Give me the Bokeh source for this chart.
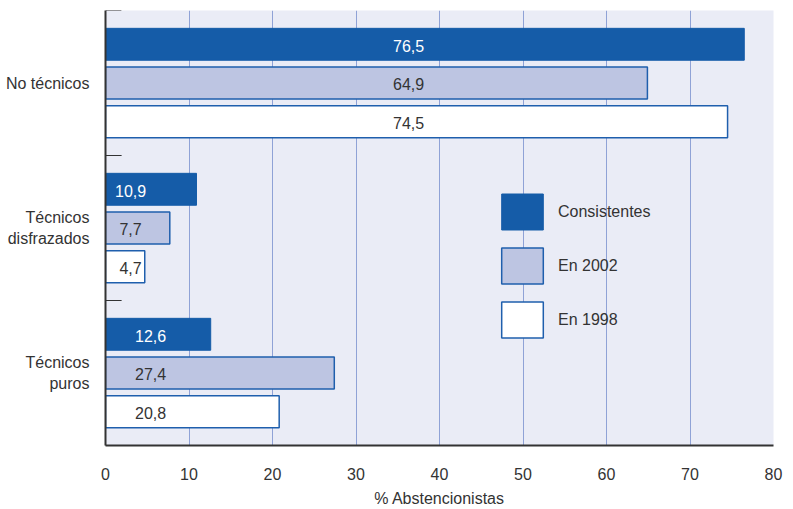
from bokeh.plotting import figure
from bokeh.models import FactorRange, Range1d, ColumnDataSource, Legend, LegendItem, FixedTicker
from bokeh.transform import dodge
from bokeh.core.properties import value
from bokeh.embed import file_html
from bokeh.resources import INLINE

# ---- data ----
categories = ["No técnicos", "Técnicos\ndisfrazados", "Técnicos\npuros"]
series_names = ["Consistentes", "En 2002", "En 1998"]
consistentes = [76.5, 10.9, 12.6]
en_2002 = [64.9, 7.7, 27.4]
en_1998 = [74.5, 4.7, 20.8]
x_ticks = [0, 10, 20, 30, 40, 50, 60, 70, 80]

# ---- style / layout ----
FONT = "Liberation Sans"
FS = "16px"
DARK = "#155CA8"
LIGHT = "#BDC5E2"
EDGE = "#1F5FAD"
BG = "#EAECF6"
GRID = "#8FA2D6"
TXT = "#333333"
LABEL_X = [36.3, 3.0, 5.4]   # where value labels sit in each group
OFFSETS = [0.267, 0.0, -0.267]
BAR_H = 0.22

fmt = lambda v: f"{v:.1f}".replace(".", ",")

src = ColumnDataSource(dict(
    cat=categories,
    cons=consistentes, e02=en_2002, e98=en_1998,
    cons_t=[fmt(v) for v in consistentes],
    e02_t=[fmt(v) for v in en_2002],
    e98_t=[fmt(v) for v in en_1998],
    lx=LABEL_X,
    zero=[0] * len(categories),
    tick=[1.9] * len(categories),
))

p = figure(width=785, height=509, y_range=FactorRange(factors=list(reversed(categories)), range_padding=0),
           x_range=Range1d(0, 80), output_backend="svg", toolbar_location=None,
           min_border_left=105, min_border_right=12, min_border_top=10, min_border_bottom=10)
p.background_fill_color = BG
p.outline_line_color = None

p.xgrid.ticker = FixedTicker(ticks=x_ticks[1:])
p.xgrid.grid_line_color = GRID
p.xgrid.grid_line_width = 1
p.ygrid.grid_line_color = None

r1 = p.hbar(y=dodge("cat", OFFSETS[0], range=p.y_range), left="zero", right="cons", height=BAR_H,
            source=src, fill_color=DARK, line_color=DARK, line_width=1)
r2 = p.hbar(y=dodge("cat", OFFSETS[1], range=p.y_range), left="zero", right="e02", height=BAR_H,
            source=src, fill_color=LIGHT, line_color=EDGE, line_width=1.5)
r3 = p.hbar(y=dodge("cat", OFFSETS[2], range=p.y_range), left="zero", right="e98", height=BAR_H,
            source=src, fill_color="white", line_color=EDGE, line_width=1.5)

for off, col, c in [(OFFSETS[0], "cons_t", "white"), (OFFSETS[1], "e02_t", TXT), (OFFSETS[2], "e98_t", TXT)]:
    p.text(x="lx", y=dodge("cat", off - 0.01, range=p.y_range), text=col, source=src,
           text_align="center", text_baseline="middle", text_color=c,
           text_font=value(FONT), text_font_size=FS)

# boundary ticks on the left axis (inside)
for off in [0.5, -0.5]:
    p.segment(x0="zero", x1="tick", y0=dodge("cat", off, range=p.y_range),
              y1=dodge("cat", off, range=p.y_range), source=src, line_color="#333333", line_width=1.2)

# axes
p.xaxis.ticker = FixedTicker(ticks=x_ticks)
p.xaxis.major_tick_line_color = None
p.xaxis.minor_tick_line_color = None
p.xaxis.axis_line_color = "#333333"
p.xaxis.axis_line_width = 2
p.xaxis.major_label_text_font = FONT
p.xaxis.major_label_text_font_size = FS
p.xaxis.major_label_text_color = TXT
p.xaxis.major_label_standoff = 16
p.xaxis.axis_label = "% Abstencionistas"
p.xaxis.axis_label_text_font = FONT
p.xaxis.axis_label_text_font_size = FS
p.xaxis.axis_label_text_font_style = "normal"
p.xaxis.axis_label_text_color = TXT
p.xaxis.axis_label_standoff = 7

p.yaxis.major_tick_line_color = None
p.yaxis.minor_tick_line_color = None
p.yaxis.axis_line_color = "#333333"
p.yaxis.axis_line_width = 2
p.yaxis.major_label_text_font = FONT
p.yaxis.major_label_text_font_size = FS
p.yaxis.major_label_text_color = TXT
p.yaxis.major_label_standoff = 10

legend = Legend(items=[LegendItem(label=series_names[0], renderers=[r1]),
                       LegendItem(label=series_names[1], renderers=[r2]),
                       LegendItem(label=series_names[2], renderers=[r3])],
                location=(391, 103), glyph_width=52, glyph_height=45, spacing=9,
                label_standoff=10, padding=0, margin=0, background_fill_alpha=0,
                border_line_color=None, label_text_font=FONT, label_text_font_size=FS,
                label_text_color=TXT, label_height=36)
p.add_layout(legend)

open("out.html", "w").write(file_html(p, INLINE))
